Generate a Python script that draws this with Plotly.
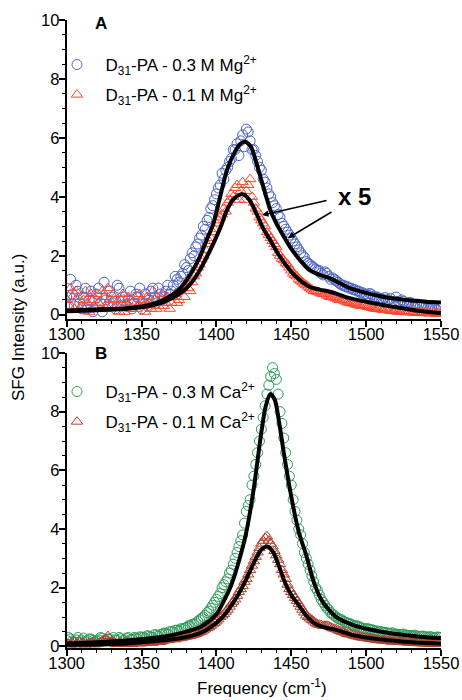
import plotly.graph_objects as go

# ---------------- data ----------------
# two interleaved scans: grid 1 at 1300 + 2.5*i, grid 2 at 1301.25 + 2.5*i
freq = [1300 + 2.5 * i for i in range(101)]
freq2 = [1301.25 + 2.5 * i for i in range(100)]

mg03 = [0.6, 1.2, 0.3, 0.8, 0.2, 0.9, 0.5, 0.1, 0.7, 0.4,
        1.1, 0.3, 0.6, 0.2, 0.9, 0.5, 0.3, 0.8, 0.4, 0.6,
        0.2, 0.7, 0.5, 0.9, 0.4, 0.7, 0.6, 1.0, 0.8, 1.3,
        1.1, 1.4, 1.6, 1.9, 2.0, 2.4, 2.7, 2.9, 3.3, 3.7,
        4.1, 4.4, 4.6, 5.0, 5.3, 5.6, 5.4, 6.1, 6.3, 5.9,
        5.6, 5.2, 4.9, 4.5, 4.1, 3.8, 3.6, 3.3, 3.0, 2.8,
        2.6, 2.4, 2.2, 2.0, 1.8, 1.7, 1.6, 1.5, 1.4, 1.45,
        1.3, 1.25, 1.15, 1.05, 1.0, 0.95, 0.9, 0.85, 0.8, 0.75,
        0.7, 0.72, 0.62, 0.6, 0.55, 0.58, 0.5, 0.45, 0.6, 0.4,
        0.45, 0.35, 0.4, 0.3, 0.35, 0.25, 0.3, 0.2, 0.3, 0.15, 0.25]
mg03_b = [0.3, 0.7, 1.0, 0.4, 0.6, 0.2, 0.8, 0.5, 0.9, 0.1,
          0.5, 0.8, 0.4, 1.0, 0.3, 0.6, 0.5, 0.2, 0.7, 0.9,
          0.4, 0.3, 0.8, 0.6, 0.9, 0.5, 0.8, 0.7, 1.0, 1.2,
          1.3, 1.7, 1.5, 2.1, 2.3, 2.6, 3.0, 3.2, 3.6, 3.9,
          4.3, 4.8, 4.9, 5.2, 5.6, 5.8, 5.9, 5.7, 6.2, 5.6,
          5.4, 5.0, 4.6, 4.3, 4.0, 3.7, 3.4, 3.1, 2.9, 2.7,
          2.5, 2.3, 2.1, 1.95, 1.75, 1.65, 1.55, 1.5, 1.35, 1.4,
          1.2, 1.2, 1.1, 1.0, 0.95, 0.9, 0.85, 0.8, 0.75, 0.7,
          0.65, 0.68, 0.6, 0.55, 0.52, 0.5, 0.55, 0.42, 0.45, 0.5,
          0.38, 0.42, 0.3, 0.36, 0.28, 0.32, 0.22, 0.26, 0.2, 0.28]

mg01 = [0.5, 0.9, 0.2, 0.6, 0.3, 0.8, 0.1, 0.5, 0.7, 0.2,
        0.6, 0.9, 0.3, 0.5, 0.1, 0.7, 0.4, 0.2, 0.6, 0.3,
        0.5, 0.1, 0.4, 0.8, 0.2, 0.5, 0.3, 0.6, 0.4, 0.7,
        0.5, 0.9, 1.1, 0.8, 1.3, 1.6, 1.9, 2.2, 2.5, 2.8,
        3.1, 3.3, 3.6, 3.8, 4.1, 4.3, 3.9, 4.5, 4.2, 4.6,
        3.8, 3.5, 3.2, 3.0, 2.7, 2.5, 2.3, 2.0, 1.85, 1.7,
        1.5, 1.35, 1.2, 1.1, 1.0, 0.9, 0.8, 0.78, 0.72, 0.7,
        0.62, 0.6, 0.55, 0.5, 0.48, 0.42, 0.4, 0.35, 0.33, 0.3,
        0.28, 0.25, 0.22, 0.2, 0.18, 0.2, 0.15, 0.12, 0.15, 0.1,
        0.12, 0.08, 0.1, 0.06, 0.08, 0.05, 0.07, 0.04, 0.06, 0.03, 0.05]
mg01_b = [0.3, 0.6, 0.8, 0.2, 0.5, 0.4, 0.7, 0.3, 0.4, 0.8,
          0.2, 0.5, 0.7, 0.3, 0.5, 0.1, 0.6, 0.4, 0.2, 0.7,
          0.3, 0.6, 0.2, 0.5, 0.3, 0.7, 0.4, 0.2, 0.6, 0.4,
          0.8, 0.6, 0.9, 1.1, 1.4, 1.7, 2.0, 2.4, 2.6, 2.9,
          3.2, 3.4, 3.5, 3.9, 4.0, 4.4, 4.2, 3.9, 4.4, 4.0,
          3.6, 3.3, 3.1, 2.8, 2.6, 2.4, 2.1, 1.9, 1.75, 1.6,
          1.4, 1.3, 1.15, 1.05, 0.95, 0.85, 0.8, 0.75, 0.7, 0.65,
          0.6, 0.58, 0.52, 0.5, 0.45, 0.4, 0.38, 0.34, 0.3, 0.3,
          0.26, 0.24, 0.2, 0.22, 0.16, 0.18, 0.13, 0.14, 0.1, 0.12,
          0.09, 0.1, 0.07, 0.08, 0.06, 0.07, 0.05, 0.06, 0.04, 0.05]

ca03 = [0.2, 0.25, 0.15, 0.3, 0.2, 0.15, 0.25, 0.2, 0.18, 0.3,
        0.2, 0.25, 0.15, 0.22, 0.3, 0.2, 0.28, 0.22, 0.3, 0.25,
        0.32, 0.28, 0.35, 0.3, 0.38, 0.4, 0.45, 0.42, 0.5, 0.55,
        0.52, 0.6, 0.65, 0.7, 0.75, 0.85, 0.95, 1.05, 1.2, 1.4,
        1.6, 1.8, 2.1, 2.3, 2.6, 3.0, 3.4, 3.8, 4.6, 5.0,
        5.8, 6.6, 7.4, 8.2, 8.9, 9.5, 9.1, 8.0, 7.1, 6.2,
        5.5, 4.6, 4.0, 3.5, 3.0, 2.6, 2.2, 1.9, 1.6, 1.4,
        1.25, 1.1, 1.0, 0.92, 0.85, 0.8, 0.75, 0.7, 0.68, 0.62,
        0.6, 0.58, 0.55, 0.52, 0.5, 0.48, 0.45, 0.46, 0.42, 0.4,
        0.42, 0.38, 0.36, 0.38, 0.34, 0.35, 0.32, 0.33, 0.3, 0.32, 0.3]
ca03_b = [0.3, 0.18, 0.22, 0.15, 0.28, 0.2, 0.25, 0.15, 0.22, 0.28,
          0.18, 0.25, 0.3, 0.2, 0.26, 0.22, 0.3, 0.24, 0.28, 0.32,
          0.3, 0.36, 0.32, 0.4, 0.35, 0.42, 0.45, 0.5, 0.48, 0.55,
          0.6, 0.62, 0.7, 0.75, 0.8, 0.9, 1.0, 1.15, 1.3, 1.5,
          1.7, 2.0, 2.2, 2.5, 2.8, 3.2, 3.6, 4.2, 4.8, 5.5,
          6.2, 7.0, 7.8, 8.6, 9.2, 9.3, 8.6, 7.6, 6.6, 5.8,
          5.0, 4.3, 3.8, 3.2, 2.8, 2.4, 2.0, 1.75, 1.5, 1.3,
          1.15, 1.05, 0.95, 0.9, 0.82, 0.78, 0.72, 0.7, 0.65, 0.6,
          0.6, 0.56, 0.52, 0.5, 0.48, 0.46, 0.44, 0.42, 0.4, 0.41,
          0.38, 0.37, 0.36, 0.35, 0.33, 0.34, 0.31, 0.32, 0.3, 0.31]

ca01 = [0.1, 0.05, 0.15, 0.08, 0.12, 0.05, 0.1, 0.15, 0.08, 0.12,
        0.2, 0.35, 0.15, 0.1, 0.12, 0.08, 0.15, 0.1, 0.12, 0.15,
        0.1, 0.13, 0.15, 0.12, 0.18, 0.15, 0.2, 0.22, 0.25, 0.24,
        0.28, 0.3, 0.33, 0.36, 0.4, 0.45, 0.5, 0.58, 0.65, 0.75,
        0.85, 1.0, 1.1, 1.25, 1.45, 1.6, 1.85, 2.05, 2.3, 2.6,
        2.9, 3.2, 3.5, 3.7, 3.6, 3.4, 3.1, 2.8, 2.45, 2.1,
        1.85, 1.65, 1.45, 1.25, 1.05, 0.95, 0.85, 0.75, 0.72, 0.7,
        0.68, 0.62, 0.58, 0.52, 0.48, 0.42, 0.4, 0.36, 0.33, 0.3,
        0.28, 0.26, 0.24, 0.22, 0.2, 0.2, 0.18, 0.16, 0.17, 0.15,
        0.14, 0.13, 0.12, 0.12, 0.11, 0.1, 0.1, 0.09, 0.09, 0.08, 0.08]
ca01_b = [0.08, 0.12, 0.06, 0.14, 0.1, 0.08, 0.12, 0.06, 0.1, 0.18,
          0.25, 0.15, 0.12, 0.08, 0.1, 0.14, 0.12, 0.08, 0.12, 0.1,
          0.12, 0.14, 0.13, 0.16, 0.17, 0.18, 0.21, 0.23, 0.26, 0.27,
          0.29, 0.32, 0.35, 0.38, 0.42, 0.48, 0.54, 0.62, 0.7, 0.8,
          0.92, 1.05, 1.18, 1.35, 1.52, 1.72, 1.95, 2.2, 2.45, 2.75,
          3.05, 3.35, 3.6, 3.75, 3.5, 3.25, 2.95, 2.6, 2.3, 1.95,
          1.75, 1.55, 1.35, 1.15, 1.0, 0.9, 0.8, 0.74, 0.7, 0.7,
          0.65, 0.6, 0.55, 0.5, 0.45, 0.41, 0.38, 0.34, 0.31, 0.29,
          0.27, 0.25, 0.23, 0.21, 0.2, 0.19, 0.17, 0.17, 0.16, 0.15,
          0.14, 0.13, 0.12, 0.11, 0.11, 0.1, 0.1, 0.09, 0.08, 0.08]

fit_mg03_x = [1300, 1320, 1340, 1350, 1360, 1370, 1376, 1383, 1389, 1394, 1398, 1402,
              1407, 1412, 1416, 1419, 1423, 1427, 1431, 1436, 1440, 1445, 1449, 1455,
              1462, 1469, 1476, 1482, 1489, 1500, 1511, 1520, 1530, 1540, 1550]
fit_mg03_y = [0.14, 0.18, 0.22, 0.28, 0.4, 0.65, 0.9, 1.4, 1.97, 2.6, 3.1, 3.9,
              4.9, 5.5, 5.8, 5.87, 5.7, 5.1, 4.4, 3.55, 3.1, 2.65, 2.31, 1.9,
              1.52, 1.35, 1.23, 1.08, 0.9, 0.74, 0.61, 0.54, 0.48, 0.44, 0.41]

fit_mg01_x = [1300, 1320, 1340, 1350, 1360, 1370, 1380, 1385, 1389, 1394, 1398, 1403,
              1407, 1412, 1417.6, 1422, 1427, 1431, 1436, 1442, 1449, 1455, 1462, 1469,
              1476, 1482, 1489, 1500, 1511, 1520, 1530, 1540, 1550]
fit_mg01_y = [0.12, 0.15, 0.2, 0.25, 0.35, 0.55, 0.9, 1.2, 1.52, 2.0, 2.42, 3.0,
              3.55, 3.95, 4.09, 3.9, 3.4, 2.95, 2.53, 2.0, 1.52, 1.2, 0.95, 0.85,
              0.78, 0.68, 0.56, 0.44, 0.33, 0.25, 0.17, 0.1, 0.05]

fit_ca03_x = [1300, 1320, 1340, 1360, 1370, 1380, 1390, 1400, 1405, 1410, 1415, 1420,
              1425, 1430, 1433, 1436, 1439, 1442, 1445, 1450, 1455, 1460, 1465, 1470,
              1475, 1480, 1490, 1500, 1510, 1520, 1530, 1540, 1550]
fit_ca03_y = [0.1, 0.14, 0.2, 0.3, 0.38, 0.5, 0.68, 1.1, 1.55, 2.1, 2.9, 3.9,
              5.4, 7.3, 8.2, 8.6, 8.4, 7.6, 6.6, 5.1, 3.9, 3.1, 2.2, 1.6,
              1.25, 1.0, 0.75, 0.6, 0.5, 0.42, 0.36, 0.31, 0.28]

fit_ca01_x = [1300, 1340, 1360, 1380, 1390, 1400, 1405, 1410, 1415, 1420, 1425, 1430,
              1434, 1438, 1442, 1446, 1450, 1455, 1460, 1465, 1470, 1475, 1480, 1485,
              1490, 1500, 1510, 1520, 1530, 1540, 1550]
fit_ca01_y = [0.05, 0.1, 0.18, 0.32, 0.47, 0.8, 1.05, 1.4, 1.8, 2.3, 2.85, 3.3,
              3.4, 3.2, 2.7, 2.15, 1.75, 1.4, 1.05, 0.8, 0.68, 0.62, 0.56, 0.48,
              0.4, 0.3, 0.23, 0.18, 0.14, 0.11, 0.09]

x_ticks = [1300, 1350, 1400, 1450, 1500, 1550]
y_ticks = [0, 2, 4, 6, 8, 10]

names = ["D<sub>31</sub>-PA - 0.3 M Mg<sup>2+</sup>",
         "D<sub>31</sub>-PA - 0.1 M Mg<sup>2+</sup>",
         "D<sub>31</sub>-PA - 0.3 M Ca<sup>2+</sup>",
         "D<sub>31</sub>-PA - 0.1 M Ca<sup>2+</sup>"]

# ---------------- figure ----------------
FONT = "Liberation Sans, Arial, sans-serif"
C_BLUE = "#4a62c8"
C_RED = "#ff4630"
C_GREEN = "#2f9a5c"
C_BROWN = "#b0402c"

fig = go.Figure()

def scat(y1, y2, name, color, symbol, xa, ya, legend, group):
    fig.add_trace(go.Scatter(
        x=freq + freq2, y=y1 + y2, mode="markers", name="&#8194;" + name,
        xaxis=xa, yaxis=ya, legend=legend, legendgroup=group,
        marker=dict(symbol=symbol, size=10, color=color, line=dict(width=1, color=color)),
    ))

def fitline(x, y, xa, ya):
    fig.add_trace(go.Scatter(
        x=x, y=y, mode="lines", xaxis=xa, yaxis=ya, showlegend=False,
        line=dict(color="black", width=4, shape="spline", smoothing=0.8),
        hoverinfo="skip",
    ))

scat(mg03, mg03_b, names[0], C_BLUE, "circle-open", "x", "y", "legend", "g1")
scat(mg01, mg01_b, names[1], C_RED, "triangle-up-open", "x", "y", "legend", "g2")
fitline(fit_mg03_x, fit_mg03_y, "x", "y")
fitline(fit_mg01_x, fit_mg01_y, "x", "y")

scat(ca03, ca03_b, names[2], C_GREEN, "circle-open", "x2", "y2", "legend2", "g3")
scat(ca01, ca01_b, names[3], C_BROWN, "triangle-up-open", "x2", "y2", "legend2", "g4")
fitline(fit_ca03_x, fit_ca03_y, "x2", "y2")
fitline(fit_ca01_x, fit_ca01_y, "x2", "y2")

W, H = 462, 700
x_dom = [66.7 / W, 441 / W]
yA_dom = [1 - 318.7 / H, 1 - 20 / H]
yB_dom = [1 - 647.8 / H, 1 - 353 / H]

xcommon = dict(
    range=[1300, 1550], tickvals=x_ticks, ticks="outside", ticklen=6, tickwidth=1.5,
    tickcolor="black", showline=True, linecolor="black", linewidth=2,
    showgrid=False, zeroline=False, automargin=False, ticklabelstandoff=-7,
    tickfont=dict(family=FONT, size=16.5, color="black"),
    minor=dict(dtick=10, tick0=1300, ticks="outside", ticklen=3, tickwidth=1.2,
               tickcolor="black", showgrid=False),
    domain=x_dom,
)
ycommon = dict(
    tickvals=y_ticks, ticks="outside", ticklen=6, tickwidth=1.5,
    tickcolor="black", showline=True, linecolor="black", linewidth=2,
    showgrid=False, zeroline=False, automargin=False, ticklabelstandoff=-4,
    tickfont=dict(family=FONT, size=16.5, color="black"),
    minor=dict(dtick=0.5, tick0=0, ticks="outside", ticklen=3, tickwidth=1.2,
               tickcolor="black", showgrid=False),
)

LEG = dict(xanchor="left", yanchor="top", bgcolor="rgba(0,0,0,0)",
           font=dict(family=FONT, size=17), itemsizing="trace", tracegroupgap=5)

fig.update_layout(
    width=W, height=H,
    margin=dict(l=0, r=0, t=0, b=0, autoexpand=False),
    paper_bgcolor="white", plot_bgcolor="white",
    font=dict(family=FONT, color="black"),
    xaxis=dict(**xcommon, anchor="y"),
    yaxis=dict(**ycommon, range=[-0.136, 10], domain=yA_dom, anchor="x"),
    xaxis2=dict(**xcommon, anchor="y2"),
    yaxis2=dict(**ycommon, range=[-0.05, 10], domain=yB_dom, anchor="x2"),
    legend=dict(**LEG, x=57 / W, y=1 - 47 / H),
    legend2=dict(**LEG, x=57 / W, y=1 - 374 / H),
    showlegend=True,
)

ANN = dict(xref="paper", yref="paper", showarrow=False, xanchor="center", yanchor="middle")
fig.add_annotation(text="<b>A</b>", x=101 / W, y=1 - 24 / H, font=dict(family=FONT, size=17), **ANN)
fig.add_annotation(text="<b>B</b>", x=101 / W, y=1 - 354 / H, font=dict(family=FONT, size=17), **ANN)
fig.add_annotation(text="SFG Intensity (a.u.)", x=18 / W, y=1 - 328 / H, textangle=-90,
                   font=dict(family=FONT, size=17), **ANN)
fig.add_annotation(text="Frequency (cm<sup>-1</sup>)", x=262 / W, y=1 - 687 / H,
                   font=dict(family=FONT, size=17), **ANN)
fig.add_annotation(text="<b>x 5</b>", x=354 / W, y=1 - 197 / H, font=dict(family=FONT, size=24), **ANN)
fig.add_annotation(text="", x=1430.5, y=3.38, xref="x", yref="y", ax=66, ay=-15,
                   showarrow=True, arrowhead=2, arrowsize=0.8, arrowwidth=1.6,
                   arrowcolor="black")
fig.add_annotation(text="", x=1447.8, y=2.6, xref="x", yref="y", ax=45, ay=-27,
                   showarrow=True, arrowhead=2, arrowsize=0.8, arrowwidth=1.6,
                   arrowcolor="black")

fig.write_html("out.html")
